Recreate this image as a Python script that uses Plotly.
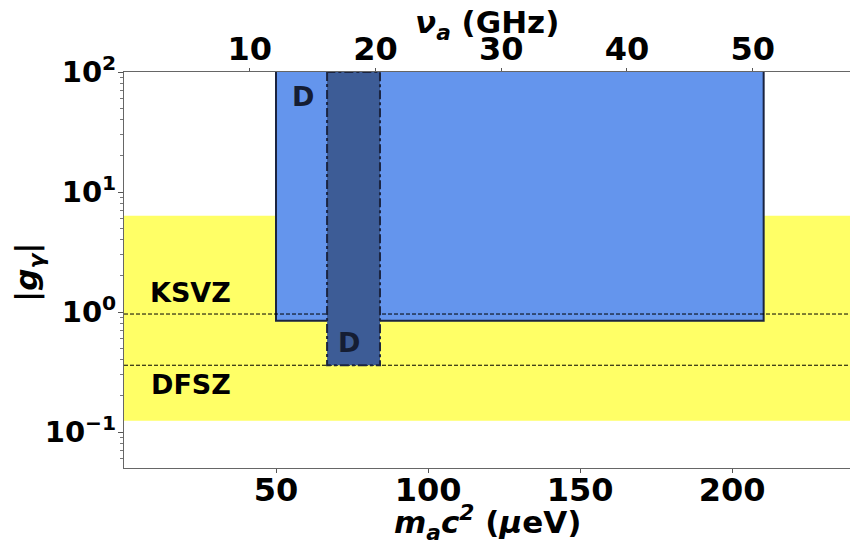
import plotly.graph_objects as go

# --- data ---
EV_PER_GHZ = 4.1357  # ueV per GHz
x_range = [0, 238.8]
y_range_log = [-1.3, 2.0]

band_g = [0.124, 6.35]          # yellow model band
ksvz_g = 0.962
dfsz_g = 0.36
main_x = [50.0, 210.4]          # main excluded region (ueV)
main_g = [0.846, 100.0]
d_x = [66.8, 84.2]              # dark region (ueV)
d_g = [0.36, 100.0]

ytick_vals = [0.1, 1, 10, 100]
ytick_text = ["10<sup>−1</sup>", "10<sup>0</sup>", "10<sup>1</sup>", "10<sup>2</sup>"]
yminor_vals = [m * 10 ** e for e in (-2, -1, 0, 1) for m in range(2, 10)]
xtick_vals = [50, 100, 150, 200]
top_ticks_ghz = [10, 20, 30, 40, 50]

FONT = "DejaVu Sans"
EDGE = "#1b2440"
FS = 32

fig = go.Figure()

# yellow band
fig.add_trace(go.Scatter(
    x=[x_range[0], x_range[1], x_range[1], x_range[0], x_range[0]],
    y=[band_g[0], band_g[0], band_g[1], band_g[1], band_g[0]],
    fill="toself", fillcolor="#ffff66", line=dict(width=0),
    mode="lines", hoverinfo="skip", showlegend=False))

# main blue region
fig.add_trace(go.Scatter(
    x=[main_x[0], main_x[0], main_x[1], main_x[1]],
    y=[main_g[1], main_g[0], main_g[0], main_g[1]],
    fill="toself", fillcolor="#6495ed", line=dict(color=EDGE, width=2),
    mode="lines", hoverinfo="skip", showlegend=False))

# KSVZ / DFSZ lines
for g in (ksvz_g, dfsz_g):
    fig.add_trace(go.Scatter(
        x=x_range, y=[g, g], mode="lines",
        line=dict(color="black", width=1, dash="4px,2px"),
        hoverinfo="skip", showlegend=False))

# dark region
fig.add_trace(go.Scatter(
    x=[d_x[0], d_x[0], d_x[1], d_x[1], d_x[0]],
    y=[d_g[1], d_g[0], d_g[0], d_g[1], d_g[1]],
    fill="toself", fillcolor="#3d5c96", line=dict(color=EDGE, width=2, dash="dashdot"),
    mode="lines", hoverinfo="skip", showlegend=False))

# invisible trace on top axis
fig.add_trace(go.Scatter(x=[x_range[0]], y=[1], xaxis="x2", mode="markers",
                         marker=dict(opacity=0), hoverinfo="skip", showlegend=False))

# labels
fig.add_annotation(x=main_x[0] + 9, y=1.8, text="D", showarrow=False,
                   font=dict(family=FONT, size=27, color="#151d33", weight="bold"))
fig.add_annotation(x=74.0, y=-0.25, text="D", showarrow=False,
                   font=dict(family=FONT, size=27, color="#151d33", weight="bold"))
fig.add_annotation(x=22, y=0.16, text="KSVZ", showarrow=False, xanchor="center",
                   font=dict(family=FONT, size=27, color="black", weight="bold"))
fig.add_annotation(x=22, y=-0.604, text="DFSZ", showarrow=False, xanchor="center",
                   font=dict(family=FONT, size=27, color="black", weight="bold"))

# axis titles (placed as paper annotations)
title_font = dict(family=FONT, size=31, color="black", weight="bold")
fig.add_annotation(xref="paper", yref="paper", x=0.5, y=0, yshift=-54,
                   text="<i>m<sub>a</sub>c<sup>2</sup></i> (<i>μ</i>eV)",
                   showarrow=False, yanchor="middle", font=title_font)
fig.add_annotation(xref="paper", yref="paper", x=0.5, y=1, yshift=48,
                   text="<i>ν<sub>a</sub></i> (GHz)",
                   showarrow=False, yanchor="middle", font=title_font)
fig.add_annotation(xref="paper", yref="paper", x=0, xshift=-96, y=0.5, yshift=-2,
                   text="|<i>g<sub>γ</sub></i>|", textangle=-90,
                   showarrow=False, xanchor="center", yanchor="middle", font=title_font)

axis_common = dict(showgrid=False, zeroline=False, showline=True,
                   linecolor="#666", linewidth=1, ticks="outside", tickcolor="#555")

fig.update_layout(
    width=850, height=541,
    margin=dict(l=124, r=0, t=72, b=73),
    paper_bgcolor="white", plot_bgcolor="white",
    font=dict(family=FONT, size=FS, color="black", weight="bold"),
    xaxis=dict(range=x_range, tickvals=xtick_vals, ticklen=4, ticklabelstandoff=-10,
               tickfont=dict(size=FS, weight="bold"), **axis_common),
    xaxis2=dict(range=x_range, overlaying="x", side="top", anchor="y",
                tickvals=[v * EV_PER_GHZ for v in top_ticks_ghz],
                ticktext=[str(v) for v in top_ticks_ghz], ticklen=3,
                ticklabelstandoff=-5,
                tickfont=dict(size=FS, weight="bold"), **axis_common),
    yaxis=dict(type="log", range=y_range_log, tickvals=ytick_vals, ticktext=ytick_text,
               ticklen=5, ticklabelstandoff=-4,
               minor=dict(ticks="outside", ticklen=3, tickcolor="#777", showgrid=False,
                          tickmode="array", tickvals=yminor_vals),
               tickfont=dict(size=29, weight="bold"), **axis_common),
)

fig.write_html("out.html")
